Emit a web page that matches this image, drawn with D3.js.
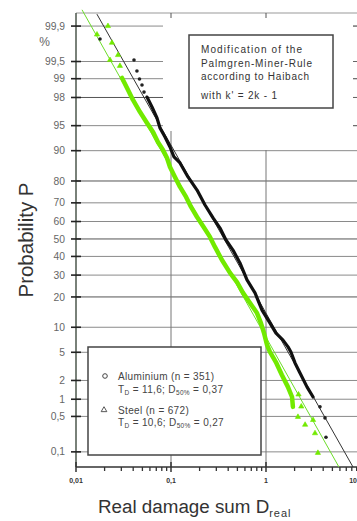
<!DOCTYPE html>
<html><head><meta charset="utf-8">
<script src="https://cdn.jsdelivr.net/npm/d3@7"></script>
<style>body{margin:0;background:#fff}svg{display:block}text{font-family:"Liberation Sans",Arial,sans-serif}</style>
</head><body><svg id="c" width="357" height="521"></svg>
<script>
// ---- data ----
const probTicks  = [99.9, 99.5, 99, 98, 95, 90, 80, 70, 60, 50, 40, 30, 20, 10, 5, 2, 1, 0.5, 0.1];
const probLabels = ["99,9","99,5","99","98","95","90","80","70","60","50","40","30","20","10","5","2","1","0,5","0,1"];
const damageTicks  = [0.01, 0.1, 1, 10];
const damageLabels = ["0,01","0,1","1","10"];

// Aluminium (black) – dense part of the sample and isolated points
const alDenseD = [0.0559,0.0631,0.0712,0.0766,0.0865,0.0976,0.1076,0.1244,0.151,0.188,0.228,0.277,0.328,0.379,0.449,0.532,0.631,0.766,0.908,1.102,1.274,1.51,1.705,1.83,2.02,2.28,2.70,3.13];
const alDenseP = [98.03,97.23,96.05,94.64,93.06,90.9,88.3,86.5,81.6,76.1,68.9,62.0,56.3,49.4,43.6,36.4,27.6,21.7,15.1,11.1,8.6,7.1,5.86,5.05,3.6,2.59,1.59,1.09];
const alScatterD = [0.0179,0.0408,0.0438,0.0466,0.0495,0.0520,3.70,4.18,4.28];
const alScatterP = [99.815,99.53,99.26,98.99,98.73,98.35,0.74,0.47,0.20];
const alFitD = [0.0166, 8.24];
const alFitP = [99.945, 0.0466];

// Steel (green)
const stDenseD = [0.0305,0.0353,0.0398,0.0472,0.0559,0.0647,0.0730,0.0824,0.0908,0.0976,0.110,0.1244,0.144,0.1625,0.188,0.217,0.257,0.290,0.344,0.418,0.495,0.573,0.679,0.804,0.885,0.953,1.025,1.10,1.27,1.47,1.70,1.88,1.92];
const stDenseP = [99.03,98.47,97.82,96.73,95.39,93.98,92.0,90.2,88.0,85.2,81.6,77.5,72.9,67.9,62.5,57.5,51.2,45.4,38.0,31.1,26.6,21.7,17.6,14.1,11.1,8.6,6.2,5.05,3.7,2.42,1.59,1.09,0.74];
const stScatterD = [0.01663,0.0217,0.0239,0.0228,0.0277,0.0290,2.2,2.35,2.17,2.58,3.13,3.28,3.52];
const stScatterP = [99.85,99.90,99.78,99.53,99.62,99.40,1.2,0.75,0.49,0.35,0.43,0.24,0.095];
const stFitD = [0.01157, 5.86];
const stFitP = [99.956, 0.0466];

// ---- helpers ----
function probit(p){
  const a=[-39.69683028665376,220.9460984245205,-275.9285104469687,138.3577518672690,-30.66479806614716,2.506628277459239];
  const b=[-54.47609879822406,161.5858368580409,-155.6989798598866,66.80131188771972,-13.28068155288572];
  const c=[-0.007784894002430293,-0.3223964580411365,-2.400758277161838,-2.549732539343734,4.374664141464968,2.938163982698783];
  const d=[0.007784695709041462,0.3224671290700398,2.445134137142996,3.754408661907416];
  const pl=0.02425, ph=1-pl; let q,r;
  if(p<pl){q=Math.sqrt(-2*Math.log(p));return (((((c[0]*q+c[1])*q+c[2])*q+c[3])*q+c[4])*q+c[5])/((((d[0]*q+d[1])*q+d[2])*q+d[3])*q+1);}
  if(p<=ph){q=p-0.5;r=q*q;return (((((a[0]*r+a[1])*r+a[2])*r+a[3])*r+a[4])*r+a[5])*q/(((((b[0]*r+b[1])*r+b[2])*r+b[3])*r+b[4])*r+1);}
  q=Math.sqrt(-2*Math.log(1-p));return -(((((c[0]*q+c[1])*q+c[2])*q+c[3])*q+c[4])*q+c[5])/((((d[0]*q+d[1])*q+d[2])*q+d[3])*q+1);
}
const zip=(A,B)=>A.map((v,i)=>[v,B[i]]);

const svg=d3.select("#c");
const L=76, T=13, B=467, Rg=357;
const x=d3.scaleLog().domain([0.01,10]).range([76,361]);
const zScale=d3.scaleLinear().domain([-3.31,3.28]).range([467,13]);
const y=p=>zScale(probit(p/100));

// horizontal grid
svg.append("g").selectAll("line").data(probTicks).join("line")
  .attr("x1",L).attr("x2",Rg).attr("y1",d=>y(d)).attr("y2",d=>y(d))
  .attr("stroke",d=>(d===98||d===50||d===80||d===20)?"#555":"#8a8a8a").attr("stroke-width",1);

// vertical grid
svg.append("line").attr("x1",x(0.1)).attr("x2",x(0.1)).attr("y1",131).attr("y2",B).attr("stroke","#777");
svg.append("line").attr("x1",x(1)).attr("x2",x(1)).attr("y1",150).attr("y2",B).attr("stroke","#777");

// white area behind annotation
svg.append("rect").attr("x",163).attr("y",14).attr("width",190).attr("height",117).attr("fill","#fff");

// top border & stubs
svg.append("line").attr("x1",L).attr("x2",Rg).attr("y1",T).attr("y2",T).attr("stroke","#999").attr("stroke-width",1.2);
svg.append("g").selectAll("line").data([0.1,1]).join("line")
  .attr("x1",d=>x(d)).attr("x2",d=>x(d)).attr("y1",T).attr("y2",T+5).attr("stroke","#555");
svg.append("g").selectAll("line").data(probTicks.filter(d=>d>=95)).join("line")
  .attr("x1",353).attr("x2",357).attr("y1",d=>y(d)).attr("y2",d=>y(d)).attr("stroke","#666");

// left axis
svg.append("line").attr("x1",L).attr("x2",L).attr("y1",T).attr("y2",B).attr("stroke","#4d574d").attr("stroke-width",1.5);
svg.append("g").selectAll("line").data(probTicks).join("line")
  .attr("x1",71).attr("x2",81).attr("y1",d=>y(d)).attr("y2",d=>y(d)).attr("stroke","#222").attr("stroke-width",1.6);
svg.append("g").selectAll("text").data(probTicks).join("text")
  .attr("x",65).attr("y",d=>y(d)).attr("dy","0.35em").attr("text-anchor","end")
  .attr("font-size",10.3).attr("fill","#666").text((d,i)=>probLabels[i]);
svg.append("text").attr("x",44.5).attr("y",46).attr("text-anchor","middle").attr("font-size",12).attr("fill","#666").text("%");

// bottom axis
svg.append("line").attr("x1",L).attr("x2",Rg).attr("y1",B).attr("y2",B).attr("stroke","#333").attr("stroke-width",1.5);
const minor=[];
damageTicks.slice(0,3).forEach(t=>{for(let k=2;k<=9;k++)minor.push(t*k);});
svg.append("g").selectAll("line").data(minor).join("line")
  .attr("x1",d=>x(d)).attr("x2",d=>x(d)).attr("y1",B).attr("y2",B+4).attr("stroke","#333").attr("stroke-width",1.3);
svg.append("g").selectAll("line").data(damageTicks).join("line")
  .attr("x1",d=>x(d)).attr("x2",d=>x(d)).attr("y1",B-5).attr("y2",B+5).attr("stroke","#333").attr("stroke-width",1.5);
svg.append("g").selectAll("text").data(damageTicks).join("text")
  .attr("x",d=>Math.min(x(d),357)).attr("y",483).attr("text-anchor",d=>x(d)>357?"end":"middle")
  .attr("font-size",7).attr("font-weight","bold")
  .attr("fill","#333").text((d,i)=>damageLabels[i]);

// titles
svg.append("text").attr("transform","translate(33,240) rotate(-90)").attr("text-anchor","middle")
  .attr("font-size",20.5).attr("fill","#333").text("Probability P");
const xt=svg.append("text").attr("x",98).attr("y",513).attr("font-size",18.8).attr("fill","#333");
xt.append("tspan").text("Real damage sum D");
xt.append("tspan").attr("font-size",11).attr("dy",4).attr("letter-spacing",1).text("real");

// annotation box
svg.append("rect").attr("x",189).attr("y",35).attr("width",144).attr("height",73)
  .attr("fill","#fff").attr("stroke","#444").attr("stroke-width",1.5);
const ann=[["Modification of the",53,101],["Palmgren-Miner-Rule",67,111],["according to Haibach",80,108],["with k' = 2k - 1",99,76]];
svg.append("g").selectAll("text").data(ann).join("text")
  .attr("x",201).attr("y",d=>d[1]).attr("font-size",10).attr("fill","#333")
  .attr("textLength",d=>d[2]).attr("lengthAdjust","spacing").text(d=>d[0]);

// legend box
svg.append("rect").attr("x",88).attr("y",347).attr("width",173).attr("height",108)
  .attr("fill","#fff").attr("stroke","#444").attr("stroke-width",1.5);
svg.append("circle").attr("cx",105).attr("cy",376).attr("r",2.3).attr("fill","none").attr("stroke","#444").attr("stroke-width",1);
svg.append("path").attr("d",d3.symbol(d3.symbolTriangle,14)()).attr("transform","translate(104,410)")
  .attr("fill","none").attr("stroke","#444").attr("stroke-width",0.9);
function legLine(yy,parts){
  const t=svg.append("text").attr("x",118).attr("y",yy).attr("font-size",10).attr("fill","#444").attr("letter-spacing",0.35);
  parts.forEach(p=>{const s=t.append("tspan").text(p[0]);
    if(p[1]>0){s.attr("font-size",6.5).attr("dy",p[1]);}
    else if(p[1]<0){s.attr("dy",p[1]);}});
}
legLine(380,[["Aluminium (n = 351)"]]);
legLine(393,[["T"],["D",2],[" = 11,6; D",-2],["50%",2],[" = 0,37",-2]]);
legLine(414,[["Steel (n = 672)"]]);
legLine(426,[["T"],["D",2],[" = 10,6; D",-2],["50%",2],[" = 0,27",-2]]);

// clip for data
svg.append("clipPath").attr("id","pc").append("rect").attr("x",L).attr("y",9).attr("width",Rg-L).attr("height",B-9);
const g=svg.append("g").attr("clip-path","url(#pc)");
const line=d3.line().x(d=>x(d[0])).y(d=>y(d[1]));

// fit lines
g.append("path").attr("d",line(zip(stFitD,stFitP))).attr("stroke","#6cdc2a").attr("stroke-width",1).attr("fill","none");
g.append("path").attr("d",line(zip(alFitD,alFitP))).attr("stroke","#333").attr("stroke-width",1).attr("fill","none");

// steel data
const GREEN="#72ea00";
g.append("path").attr("d",line(zip(stDenseD,stDenseP))).attr("stroke",GREEN).attr("stroke-width",4.5)
  .attr("fill","none").attr("stroke-linejoin","round").attr("stroke-linecap","round");
g.append("g").selectAll("path").data(zip(stScatterD,stScatterP)).join("path")
  .attr("d",d3.symbol(d3.symbolTriangle,12)()).attr("transform",d=>`translate(${x(d[0])},${y(d[1])})`)
  .attr("fill",GREEN).attr("stroke",GREEN).attr("stroke-width",0.6);

// aluminium data
g.append("path").attr("d",line(zip(alDenseD,alDenseP))).attr("stroke","#111").attr("stroke-width",3.2)
  .attr("fill","none").attr("stroke-linejoin","round").attr("stroke-linecap","round");
g.append("g").selectAll("circle").data(zip(alScatterD,alScatterP)).join("circle")
  .attr("cx",d=>x(d[0])).attr("cy",d=>y(d[1])).attr("r",1.8).attr("fill","#222");
</script></body></html>
